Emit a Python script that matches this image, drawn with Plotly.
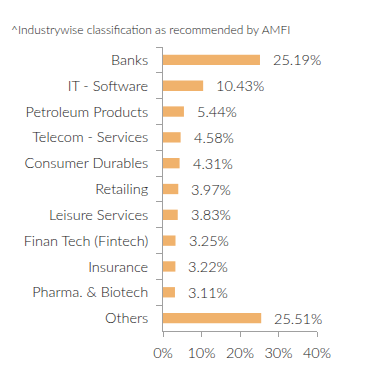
import plotly.graph_objects as go

categories = ["Banks", "IT - Software", "Petroleum Products", "Telecom - Services",
              "Consumer Durables", "Retailing", "Leisure Services", "Finan Tech (Fintech)",
              "Insurance", "Pharma. & Biotech", "Others"]
values = [25.19, 10.43, 5.44, 4.58, 4.31, 3.97, 3.83, 3.25, 3.22, 3.11, 25.51]
labels = ["25.19%", "10.43%", "5.44%", "4.58%", "4.31%", "3.97%", "3.83%", "3.25%",
          "3.22%", "3.11%", "25.51%"]
x_ticks = [0, 10, 20, 30, 40]
x_tick_labels = ["0%", "10%", "20%", "30%", "40%"]
title_text = "^Industrywise classification as recommended by AMFI"

FONT = "Lato, 'Open Sans', sans-serif"
TXT = "#222222"
AX = "#a0a0a0"
FS = 14.5
W = 300

fig = go.Figure()
fig.add_trace(go.Bar(
    x=values, y=categories, orientation="h",
    marker=dict(color="#F0B26C", line=dict(width=0)),
    hoverinfo="skip",
))

for c, v, t in zip(categories, values, labels):
    fig.add_annotation(x=v, y=c, text=t, showarrow=False, xanchor="left",
                       xshift=11, font=dict(family=FONT, size=FS, color=TXT, weight=W))

fig.add_annotation(text=title_text, xref="paper", yref="paper", x=0, y=1,
                   xanchor="left", yanchor="middle", showarrow=False,
                   xshift=-154, yshift=18,
                   font=dict(family=FONT, size=12, color=TXT, weight=W))

fig.update_layout(
    width=391, height=383,
    margin=dict(l=155, r=82, t=39, b=60, autoexpand=False),
    paper_bgcolor="white", plot_bgcolor="white",
    bargap=0.6, showlegend=False,
    font=dict(family=FONT, size=FS, color=TXT, weight=W),
)
fig.update_xaxes(range=[0, 40], tickvals=x_ticks, ticktext=x_tick_labels,
                 showgrid=False, zeroline=False, showline=True, linecolor=AX,
                 linewidth=1, ticks="outside", ticklen=5, tickcolor=AX, automargin=False,
                 ticklabelstandoff=4,
                 tickfont=dict(family=FONT, size=FS, color=TXT, weight=W), fixedrange=True)
fig.update_yaxes(categoryorder="array", categoryarray=categories, autorange="reversed",
                 showgrid=False, zeroline=False, showline=True, linecolor=AX,
                 linewidth=1, ticks="outside", ticklen=6, tickcolor=AX, automargin=False,
                 tickson="boundaries", ticksuffix=" ", ticklabelstandoff=7,
                 tickfont=dict(family=FONT, size=FS, color=TXT, weight=W), fixedrange=True)

fig.write_html("out.html", config={"displayModeBar": False})
